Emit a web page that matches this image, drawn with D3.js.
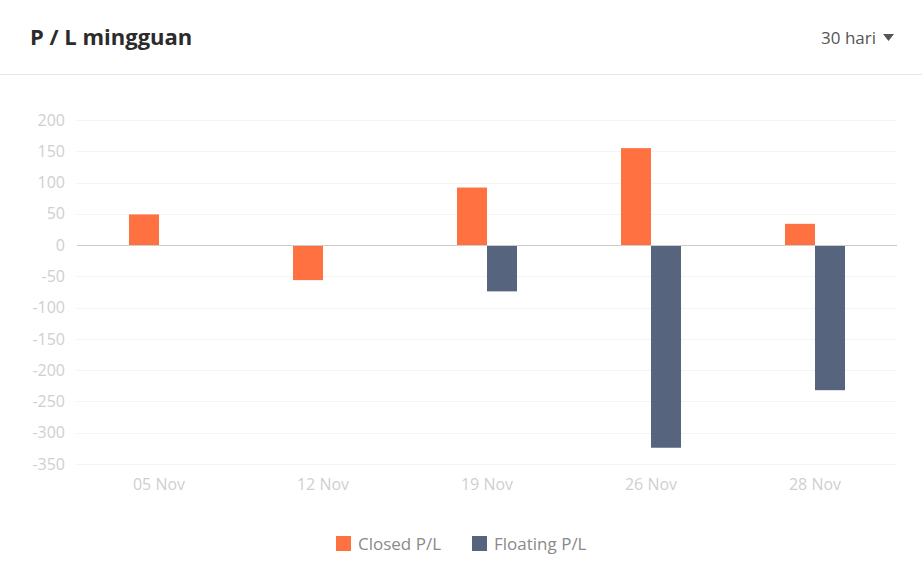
<!DOCTYPE html>
<html>
<head>
<meta charset="utf-8">
<script src="https://cdn.jsdelivr.net/npm/d3@7"></script>
<style>
  body { margin: 0; background: #fff; font-family: "Open Sans", sans-serif; }
</style>
</head>
<body>
<div id="chart"></div>
<script>
const weeks = ["05 Nov", "12 Nov", "19 Nov", "26 Nov", "28 Nov"];
const closedPL = [49, -56, 92, 155, 34];
const floatingPL = [0, 0, -74, -324, -232];
const yTicks = [200, 150, 100, 50, 0, -50, -100, -150, -200, -250, -300, -350];
const seriesNames = ["Closed P/L", "Floating P/L"];
const seriesColors = ["#ff7140", "#56647e"];

const W = 922, H = 580;
const plot = { left: 77, right: 897, top: 120, bottom: 464 };

const svg = d3.select("#chart").append("svg")
  .attr("width", W).attr("height", H);

// header
svg.append("text")
  .attr("x", 30).attr("y", 45)
  .attr("font-size", 22).attr("font-weight", 700)
  .attr("fill", "#2b2b2b")
  .text("P / L mingguan");

svg.append("text")
  .attr("x", 876).attr("y", 44)
  .attr("text-anchor", "end")
  .attr("font-size", 17).attr("fill", "#555")
  .text("30 hari");

svg.append("path")
  .attr("d", "M883,34 L894,34 L888.5,41 Z")
  .attr("fill", "#555");

svg.append("line")
  .attr("x1", 0).attr("x2", W).attr("y1", 74.5).attr("y2", 74.5)
  .attr("stroke", "#e6e6e6");

// scales
const x0 = d3.scaleBand().domain(weeks).range([plot.left, plot.right]);
const x1 = d3.scaleBand().domain(seriesNames).range([x0.bandwidth() / 2 - 30, x0.bandwidth() / 2 + 30]);
const y = d3.scaleLinear().domain([-350, 200]).range([plot.bottom, plot.top]);

// grid
svg.append("g")
  .selectAll("line")
  .data(yTicks.filter(d => d !== 0))
  .join("line")
  .attr("x1", plot.left).attr("x2", plot.right)
  .attr("y1", d => Math.round(y(d)) + 0.5).attr("y2", d => Math.round(y(d)) + 0.5)
  .attr("stroke", "#f3f3f3");

// y axis (plain hyphen for negatives)
const yAxis = svg.append("g")
  .attr("transform", `translate(${plot.left}, 0)`)
  .call(d3.axisLeft(y).tickValues(yTicks).tickFormat(d => String(d)).tickSize(0).tickPadding(12));
yAxis.select(".domain").remove();
yAxis.selectAll("text")
  .attr("font-family", "'Open Sans', sans-serif")
  .attr("font-size", 16).attr("fill", "#cfcfcf");

// x axis labels
const xAxis = svg.append("g")
  .attr("transform", `translate(0, ${plot.bottom})`)
  .call(d3.axisBottom(x0).tickSize(0).tickPadding(15));
xAxis.select(".domain").remove();
xAxis.selectAll("text")
  .attr("font-family", "'Open Sans', sans-serif")
  .attr("font-size", 16).attr("fill", "#cfcfcf");

// bars
const rows = weeks.map((w, i) => ({ week: w, values: [closedPL[i], floatingPL[i]] }));
const groups = svg.append("g")
  .selectAll("g")
  .data(rows)
  .join("g")
  .attr("transform", d => `translate(${x0(d.week)}, 0)`);

groups.selectAll("rect")
  .data(d => d.values.map((v, j) => ({ name: seriesNames[j], value: v, color: seriesColors[j] })))
  .join("rect")
  .filter(d => d.value !== 0)
  .attr("x", d => x1(d.name))
  .attr("width", x1.bandwidth())
  .attr("y", d => y(Math.max(0, d.value)))
  .attr("height", d => Math.abs(y(d.value) - y(0)))
  .attr("fill", d => d.color);

// zero line
svg.append("line")
  .attr("x1", plot.left).attr("x2", plot.right)
  .attr("y1", Math.round(y(0)) + 0.5).attr("y2", Math.round(y(0)) + 0.5)
  .attr("stroke", "#cccccc");

// legend
const legendX = [336, 472];
const legend = svg.append("g")
  .selectAll("g")
  .data(seriesNames)
  .join("g")
  .attr("transform", (d, i) => `translate(${legendX[i]}, 536)`);
legend.append("rect")
  .attr("width", 15).attr("height", 15)
  .attr("fill", (d, i) => seriesColors[i]);
legend.append("text")
  .attr("x", 22).attr("y", 14)
  .attr("font-size", 17).attr("fill", "#8a8a8a")
  .text(d => d);
</script>
</body>
</html>
